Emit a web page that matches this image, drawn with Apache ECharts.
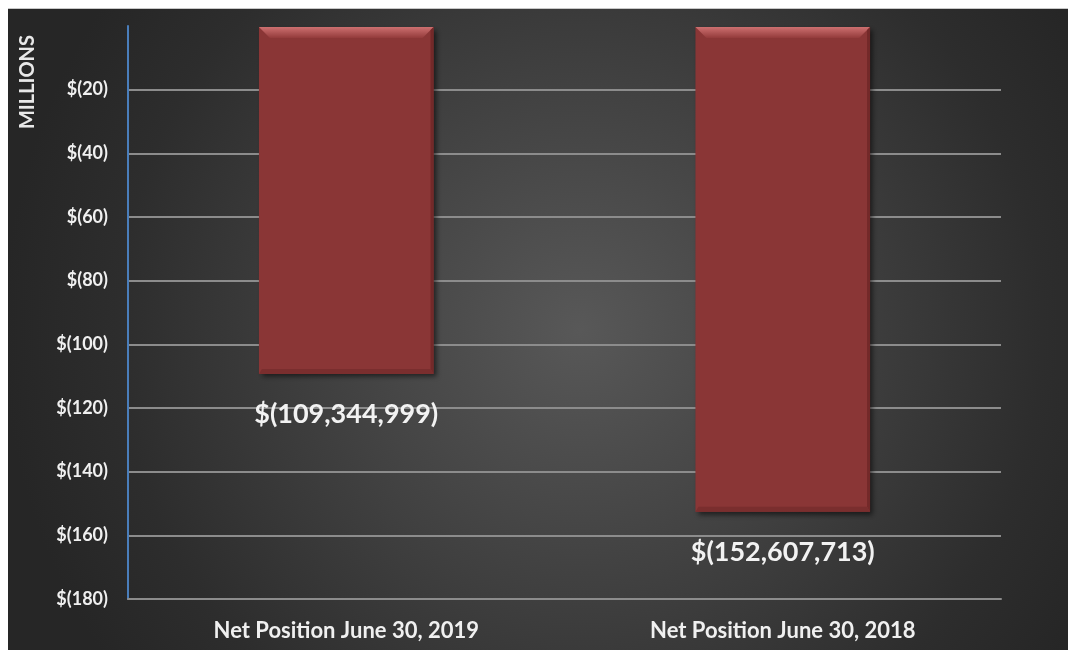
<!DOCTYPE html>
<html>
<head>
<meta charset="utf-8">
<title>Net Position</title>
<script src="https://cdn.jsdelivr.net/npm/echarts@6/dist/echarts.min.js"></script>
<style>
  html, body { margin: 0; padding: 0; background: #ffffff; }
  #chart { position: absolute; left: 8px; top: 8px; width: 1060px; height: 642px; border-top: 1px solid #c8c8c8; box-sizing: border-box; }
</style>
</head>
<body>
<div id="chart"></div>
<script>
// Net position at fiscal year end, in dollars
const categories = ['Net Position June 30, 2019', 'Net Position June 30, 2018'];
const netPosition = [-109344999, -152607713];

// Value axis, in millions of dollars
const axisMin = -180;
const axisMax = 0;
const axisStep = 20;

const FONT = 'Lato, "Open Sans", "Liberation Sans", sans-serif';

function dollars(v) {
  return '$(' + Math.abs(v).toLocaleString('en-US') + ')';
}
function millionsTick(v) {
  return v === 0 ? '' : '$(' + Math.abs(v) + ')';
}

const chart = echarts.init(document.getElementById('chart'), null, { renderer: 'canvas' });

// Bevelled bar drawn from the category/value scales
function renderBar(params, api) {
  const cat = api.value(0);
  const val = api.value(1);
  const top = api.coord([cat, 0]);
  const bot = api.coord([cat, val]);
  const w = api.size([1, 0])[0] * 0.4;
  const L = top[0] - w / 2, R = top[0] + w / 2;
  const T = top[1] + 1, B = bot[1];
  const bt = 11, bs = 3, bb = 5;
  const idx = params.dataIndex;
  return {
    type: 'group',
    children: [
      {
        type: 'rect',
        shape: { x: L, y: T, width: R - L, height: B - T },
        style: {
          fill: '#8a3636',
          shadowColor: 'rgba(0,0,0,0.55)', shadowBlur: 5, shadowOffsetX: 3, shadowOffsetY: 3
        }
      },
      {
        type: 'polygon',
        shape: { points: [[L, T], [R, T], [R - bt, T + bt], [L + bt, T + bt]] },
        style: {
          fill: new echarts.graphic.LinearGradient(0, 0, 0, 1, [
            { offset: 0, color: '#cd7070' },
            { offset: 1, color: '#933b3b' }
          ])
        }
      },
      {
        type: 'polygon',
        shape: { points: [[R, T], [R, B], [R - bs, B - bb], [R - bs, T + bs]] },
        style: { fill: '#732929' }
      },
      {
        type: 'polygon',
        shape: { points: [[L, B], [R, B], [R - bs, B - bb], [L + bs, B - bb]] },
        style: { fill: '#7a2e2e' }
      },
      {
        type: 'text',
        x: top[0],
        y: B + 27,
        style: {
          text: dollars(netPosition[idx]),
          fill: '#f2f2f2',
          font: 'bold 27px ' + FONT,
          textAlign: 'center',
          textVerticalAlign: 'top'
        }
      }
    ]
  };
}

const option = {
  backgroundColor: 'transparent',
  animation: false,
  graphic: [
    {
      type: 'rect',
      z: -10,
      silent: true,
      shape: { x: 0, y: 0, width: 1060, height: 642 },
      style: {
        fill: new echarts.graphic.RadialGradient(0.54, 0.5, 0.9, [
          { offset: 0, color: '#585858' },
          { offset: 0.45, color: '#404040' },
          { offset: 0.8, color: '#2d2d2d' },
          { offset: 1, color: '#262626' }
        ])
      }
    },
    {
      type: 'text',
      left: 10,
      top: 26,
      rotation: Math.PI / 2,
      style: {
        text: 'MILLIONS',
        fill: '#e8e8e8',
        font: 'bold 20px ' + FONT
      }
    }
  ],
  grid: { left: 120, right: 67, top: 17, bottom: 51, containLabel: false },
  xAxis: {
    type: 'category',
    data: categories,
    axisLine: { show: true, onZero: false, lineStyle: { color: '#8c8c8c', width: 2 } },
    axisTick: { show: false },
    axisLabel: {
      color: '#f0f0f0',
      fontFamily: FONT,
      fontWeight: 'bold',
      fontSize: 22,
      margin: 21
    }
  },
  yAxis: {
    type: 'value',
    min: axisMin,
    max: axisMax,
    interval: axisStep,
    axisLine: { show: true, lineStyle: { color: '#4a7ebb', width: 2 } },
    axisTick: { show: false },
    splitLine: {
      show: true,
      showMaxLine: false,
      lineStyle: { color: '#8c8c8c', width: 2 }
    },
    axisLabel: {
      formatter: millionsTick,
      color: '#f0f0f0',
      fontFamily: FONT,
      fontWeight: 'bold',
      fontSize: 18,
      margin: 20
    }
  },
  series: [
    {
      type: 'custom',
      renderItem: renderBar,
      clip: false,
      data: categories.map((c, i) => [i, netPosition[i] / 1e6])
    }
  ]
};

chart.setOption(option);
</script>
</body>
</html>
